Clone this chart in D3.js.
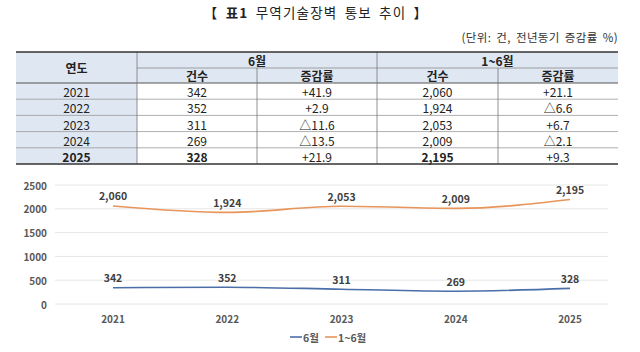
<!DOCTYPE html>
<html>
<head>
<meta charset="utf-8">
<script src="https://cdn.jsdelivr.net/npm/d3@7"></script>
<style>
  body { margin: 0; background: #fff; }
  svg { font-family: "Noto Sans CJK KR", "Noto Sans", sans-serif; }
</style>
</head>
<body>
<div id="chart"></div>
<script>
const years = ["2021", "2022", "2023", "2024", "2025"];
const junCount = [342, 352, 311, 269, 328];
const junRate = ["+41.9", "+2.9", "△11.6", "△13.5", "+21.9"];
const halfCount = [2060, 1924, 2053, 2009, 2195];
const halfRate = ["+21.1", "△6.6", "+6.7", "△2.1", "+9.3"];
const yTicks = [0, 500, 1000, 1500, 2000, 2500];

const W = 640, H = 352;
const svg = d3.select("#chart").append("svg")
    .attr("width", W)
    .attr("height", H);

const fmt = d3.format(",");

// 제목
const title = svg.append("text")
    .attr("x", 316).attr("y", 18)
    .attr("text-anchor", "middle")
    .attr("font-size", 13.5)
    .attr("letter-spacing", 1.2)
    .attr("word-spacing", 3)
    .attr("fill", "#222");
title.append("tspan").text("【 ");
title.append("tspan").attr("font-weight", "bold").text("표1");
title.append("tspan").text(" 무역기술장벽 통보 추이 】");

svg.append("text")
    .attr("x", 618).attr("y", 42)
    .attr("text-anchor", "end")
    .attr("font-size", 11.5)
    .attr("letter-spacing", 0.4)
    .attr("word-spacing", 2)
    .attr("fill", "#333")
    .text("(단위: 건, 전년동기 증감률 %)");

// 표
const colX = [16, 137, 257, 377, 498, 618];
const tTop = 52, tMid = 68, headBot = 83, rowH = 16.2;
const headBg = "#dfe7f2";
const tbl = svg.append("g");

tbl.append("rect").attr("x", colX[0]).attr("y", tTop)
    .attr("width", colX[5] - colX[0]).attr("height", headBot - tTop)
    .attr("fill", headBg);
tbl.append("rect").attr("x", colX[0]).attr("y", headBot)
    .attr("width", colX[1] - colX[0]).attr("height", rowH * years.length)
    .attr("fill", headBg);

const rows = years.map((y, i) => [y, fmt(junCount[i]), junRate[i], fmt(halfCount[i]), halfRate[i]]);
const rowY = i => headBot + rowH * i;
const tBot = rowY(years.length);

// 가로선
rows.forEach((r, i) => {
    if (i > 0) tbl.append("line")
        .attr("x1", colX[0]).attr("x2", colX[5])
        .attr("y1", rowY(i)).attr("y2", rowY(i))
        .attr("stroke", "#9a9a9a").attr("stroke-width", 0.8);
});
tbl.append("line").attr("x1", colX[1]).attr("x2", colX[5])
    .attr("y1", tMid).attr("y2", tMid).attr("stroke", "#8a8a8a").attr("stroke-width", 0.8);
tbl.append("line").attr("x1", colX[0]).attr("x2", colX[5])
    .attr("y1", headBot).attr("y2", headBot).attr("stroke", "#555").attr("stroke-width", 1);

// 세로선
[1, 3].forEach(c => tbl.append("line")
    .attr("x1", colX[c]).attr("x2", colX[c])
    .attr("y1", tTop).attr("y2", tBot)
    .attr("stroke", "#777").attr("stroke-width", 0.8));
[2, 4].forEach(c => tbl.append("line")
    .attr("x1", colX[c]).attr("x2", colX[c])
    .attr("y1", tMid).attr("y2", tBot)
    .attr("stroke", "#777").attr("stroke-width", 0.8));

[tTop, tBot].forEach(y => tbl.append("line")
    .attr("x1", colX[0]).attr("x2", colX[5])
    .attr("y1", y).attr("y2", y)
    .attr("stroke", "#333").attr("stroke-width", 1.4));

// 머리글
const cellText = (x, y, t, bold) => tbl.append("text")
    .attr("x", x).attr("y", y)
    .attr("text-anchor", "middle")
    .attr("dominant-baseline", "central")
    .attr("font-size", 12)
    .attr("font-weight", bold ? "bold" : "normal")
    .attr("fill", "#222")
    .text(t);

cellText((colX[0] + colX[1]) / 2, (tTop + headBot) / 2, "연도", true);
cellText((colX[1] + colX[3]) / 2, (tTop + tMid) / 2, "6월", true);
cellText((colX[3] + colX[5]) / 2, (tTop + tMid) / 2, "1~6월", true);
["건수", "증감률", "건수", "증감률"].forEach((t, c) =>
    cellText((colX[c + 1] + colX[c + 2]) / 2, (tMid + headBot) / 2, t, true));

rows.forEach((r, i) => {
    const last = i === rows.length - 1;
    r.forEach((t, c) => {
        const bold = last && c < 4 && c !== 2;
        cellText((colX[c] + colX[c + 1]) / 2, rowY(i) + rowH / 2 + 0.5, t, bold);
    });
});

// 그래프
const x = d3.scalePoint().domain(years).range([113, 570]);
const y = d3.scaleLinear().domain([0, 2500]).range([304, 185]);
const gridX0 = 55, gridX1 = 608;

svg.append("g").selectAll("line")
    .data(yTicks)
    .enter()
    .append("line")
    .attr("x1", gridX0).attr("x2", gridX1)
    .attr("y1", d => y(d)).attr("y2", d => y(d))
    .attr("stroke", "#e6e6e6").attr("stroke-width", 1);

svg.append("g").selectAll("text")
    .data(yTicks)
    .enter()
    .append("text")
    .attr("x", 47).attr("y", d => y(d))
    .attr("text-anchor", "end")
    .attr("dominant-baseline", "central")
    .attr("font-size", 10)
    .attr("font-weight", "bold")
    .attr("fill", "#595959")
    .text(d => d);

svg.append("g").selectAll("text")
    .data(years)
    .enter()
    .append("text")
    .attr("x", d => x(d)).attr("y", 318)
    .attr("text-anchor", "middle")
    .attr("dominant-baseline", "central")
    .attr("font-size", 10)
    .attr("font-weight", "bold")
    .attr("fill", "#595959")
    .text(d => d);

const series = [
    { name: "6월", values: junCount, color: "#4a6ea8" },
    { name: "1~6월", values: halfCount, color: "#e8955a" }
];

const line = d3.line()
    .x((d, i) => x(years[i]))
    .y(d => y(d))
    .curve(d3.curveMonotoneX);

series.forEach(s => {
    svg.append("path")
        .datum(s.values)
        .attr("d", line)
        .attr("fill", "none")
        .attr("stroke", s.color)
        .attr("stroke-width", 1.6);

    svg.append("g").selectAll("text")
        .data(s.values)
        .enter()
        .append("text")
        .attr("x", (d, i) => x(years[i]))
        .attr("y", d => y(d) - 10)
        .attr("dominant-baseline", "central")
        .attr("text-anchor", "middle")
        .attr("font-size", 10.5)
        .attr("font-weight", "bold")
        .attr("fill", "#404040")
        .text(d => fmt(d));
});

// 범례
const legend = svg.append("g");
const legX = [290, 325];
series.forEach((s, i) => {
    legend.append("line")
        .attr("x1", legX[i]).attr("x2", legX[i] + 12)
        .attr("y1", 337).attr("y2", 337)
        .attr("stroke", s.color).attr("stroke-width", 1.6);
    legend.append("text")
        .attr("x", legX[i] + 13).attr("y", 337)
        .attr("dominant-baseline", "central")
        .attr("font-size", 10.5)
        .attr("font-weight", "bold")
        .attr("fill", "#595959")
        .text(s.name);
});
</script>
</body>
</html>
